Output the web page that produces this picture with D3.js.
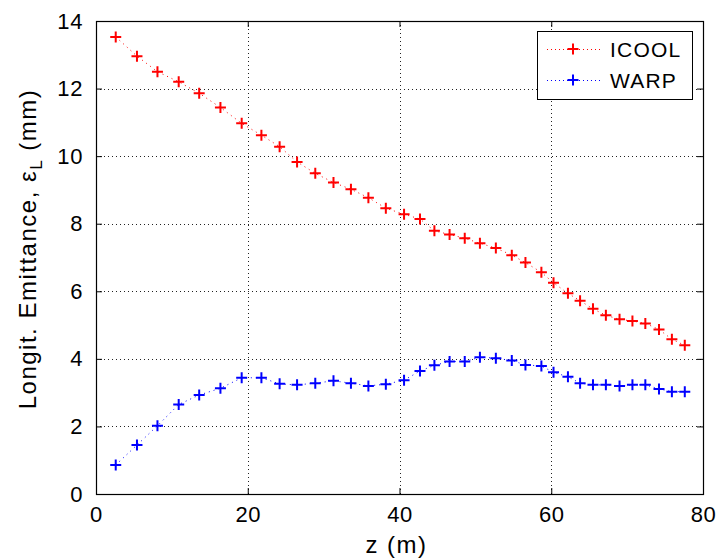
<!DOCTYPE html>
<html>
<head>
<meta charset="utf-8">
<script src="https://cdn.jsdelivr.net/npm/d3@7"></script>
<style>
  html, body { margin: 0; padding: 0; background: #fff; }
  svg { display: block; }
  text { font-family: "Liberation Sans", Arial, sans-serif; fill: #000; }
</style>
</head>
<body>
<svg id="chart" width="719" height="558"></svg>
<script>
// Position along the channel (m)
const zPositions = [2.6, 5.4, 8.1, 10.9, 13.6, 16.4, 19.2, 21.8, 24.2, 26.5, 28.9, 31.3,
  33.6, 35.9, 38.2, 40.6, 42.7, 44.6, 46.6, 48.6, 50.6, 52.7, 54.8, 56.6,
  58.7, 60.3, 62.2, 63.8, 65.5, 67.2, 69.0, 70.7, 72.4, 74.2, 75.9, 77.6];

// Longitudinal emittance (mm) from each code
const icoolValues = [13.53, 12.96, 12.50, 12.20, 11.86, 11.44, 10.97, 10.62, 10.28, 9.83, 9.49, 9.22,
  9.02, 8.77, 8.46, 8.28, 8.14, 7.79, 7.68, 7.57, 7.42, 7.28, 7.07, 6.85,
  6.56, 6.25, 5.94, 5.72, 5.48, 5.29, 5.17, 5.12, 5.05, 4.87, 4.58, 4.40];
const warpValues = [0.86, 1.45, 2.02, 2.65, 2.93, 3.13, 3.44, 3.44, 3.26, 3.23, 3.28, 3.35,
  3.28, 3.20, 3.25, 3.37, 3.64, 3.81, 3.92, 3.92, 4.05, 4.02, 3.95, 3.82,
  3.79, 3.60, 3.47, 3.28, 3.23, 3.23, 3.20, 3.23, 3.23, 3.11, 3.03, 3.03];

const seriesNames = ["ICOOL", "WARP"];
const seriesColors = ["#ff0000", "#0000ff"];

const xTicks = [0, 20, 40, 60, 80];
const yTicks = [0, 2, 4, 6, 8, 10, 12, 14];

const margin = { left: 96, top: 21, right: 16, bottom: 64 };
const W = 719, H = 558;
const pw = W - margin.left - margin.right;
const ph = H - margin.top - margin.bottom;

const svg = d3.select("#chart");
const g = svg.append("g").attr("transform", `translate(${margin.left},${margin.top})`);

const x = d3.scaleLinear().domain([0, 80]).range([0, pw]);
const y = d3.scaleLinear().domain([0, 14]).range([ph, 0]);

// Dotted grid
g.append("g").selectAll("line").data(xTicks.slice(1, -1)).join("line")
  .attr("x1", d => Math.round(x(d)) + 0.5).attr("x2", d => Math.round(x(d)) + 0.5)
  .attr("y1", 0).attr("y2", ph)
  .attr("stroke", "#222").attr("stroke-width", 1).attr("stroke-dasharray", "1,3");
g.append("g").selectAll("line").data(yTicks.slice(1, -1)).join("line")
  .attr("y1", d => Math.round(y(d)) + 0.5).attr("y2", d => Math.round(y(d)) + 0.5)
  .attr("x1", 0).attr("x2", pw)
  .attr("stroke", "#222").attr("stroke-width", 1).attr("stroke-dasharray", "1,3");

// Axes with inward ticks on all four sides
const tickLen = 6;
const xAxisB = d3.axisBottom(x).tickValues(xTicks).tickSizeInner(-tickLen).tickSizeOuter(0).tickPadding(12);
const xAxisT = d3.axisTop(x).tickValues(xTicks).tickSizeInner(-tickLen).tickSizeOuter(0).tickFormat("");
const yAxisL = d3.axisLeft(y).tickValues(yTicks).tickSizeInner(-tickLen).tickSizeOuter(0).tickPadding(13);
const yAxisR = d3.axisRight(y).tickValues(yTicks).tickSizeInner(-tickLen).tickSizeOuter(0).tickFormat("");

function styleAxis(sel) {
  sel.select(".domain").remove();
  sel.selectAll("line").attr("stroke", "#000");
  sel.selectAll("text").attr("font-size", 22).attr("letter-spacing", 0.6)
    .attr("font-family", "Liberation Sans, Arial, sans-serif");
}
g.append("g").attr("transform", `translate(0,${ph})`).call(xAxisB).call(styleAxis);
g.append("g").call(xAxisT).call(styleAxis);
g.append("g").call(yAxisL).call(styleAxis);
g.append("g").attr("transform", `translate(${pw},0)`).call(yAxisR).call(styleAxis);

// Axes box
g.append("rect").attr("x", 0.5).attr("y", 0.5).attr("width", pw).attr("height", ph)
  .attr("fill", "none").attr("stroke", "#000").attr("stroke-width", 1.2);

// Series: dotted lines with plus markers
const series = [icoolValues, warpValues];
const line = d3.line().x((d, i) => x(zPositions[i])).y(d => y(d));
const plusPath = s => `M${-s},0H${s}M0,${-s}V${s}`;

series.forEach((vals, k) => {
  g.append("path").datum(vals)
    .attr("d", line)
    .attr("fill", "none")
    .attr("stroke", seriesColors[k])
    .attr("stroke-width", 1)
    .attr("stroke-dasharray", "1,4");
  g.append("g").selectAll("path").data(vals).join("path")
    .attr("transform", (d, i) => `translate(${x(zPositions[i])},${y(d)})`)
    .attr("d", plusPath(5.5))
    .attr("stroke", seriesColors[k])
    .attr("stroke-width", 2)
    .attr("fill", "none");
});

// Legend
const leg = svg.append("g").attr("transform", "translate(537,31)");
leg.append("rect").attr("x", 0.5).attr("y", 0.5).attr("width", 155).attr("height", 68)
  .attr("fill", "#fff").attr("stroke", "#000").attr("stroke-width", 1);
seriesNames.forEach((name, k) => {
  const cy = 18 + k * 31;
  leg.append("line").attr("x1", 10).attr("x2", 63).attr("y1", cy + 0.5).attr("y2", cy + 0.5)
    .attr("stroke", seriesColors[k]).attr("stroke-width", 1).attr("stroke-dasharray", "1,3");
  leg.append("path").attr("transform", `translate(36,${cy})`).attr("d", plusPath(5.5))
    .attr("stroke", seriesColors[k]).attr("stroke-width", 2);
  leg.append("text").attr("x", 73).attr("y", cy + 8).attr("font-size", 21)
    .attr("letter-spacing", 1.2).text(name);
});

// Axis titles
svg.append("text").attr("x", margin.left + pw / 2 - 3).attr("y", 553)
  .attr("text-anchor", "middle").attr("font-size", 24).attr("letter-spacing", 1.5).text("z (m)");

const yl = svg.append("text")
  .attr("transform", "translate(36,249) rotate(-90)")
  .attr("text-anchor", "middle").attr("font-size", 24).attr("letter-spacing", 1.5);
yl.append("tspan").text("Longit. Emittance, ε");
yl.append("tspan").attr("font-size", 17).attr("dy", 6).text("L");
yl.append("tspan").attr("dy", -6).text(" (mm)");
</script>
</body>
</html>
